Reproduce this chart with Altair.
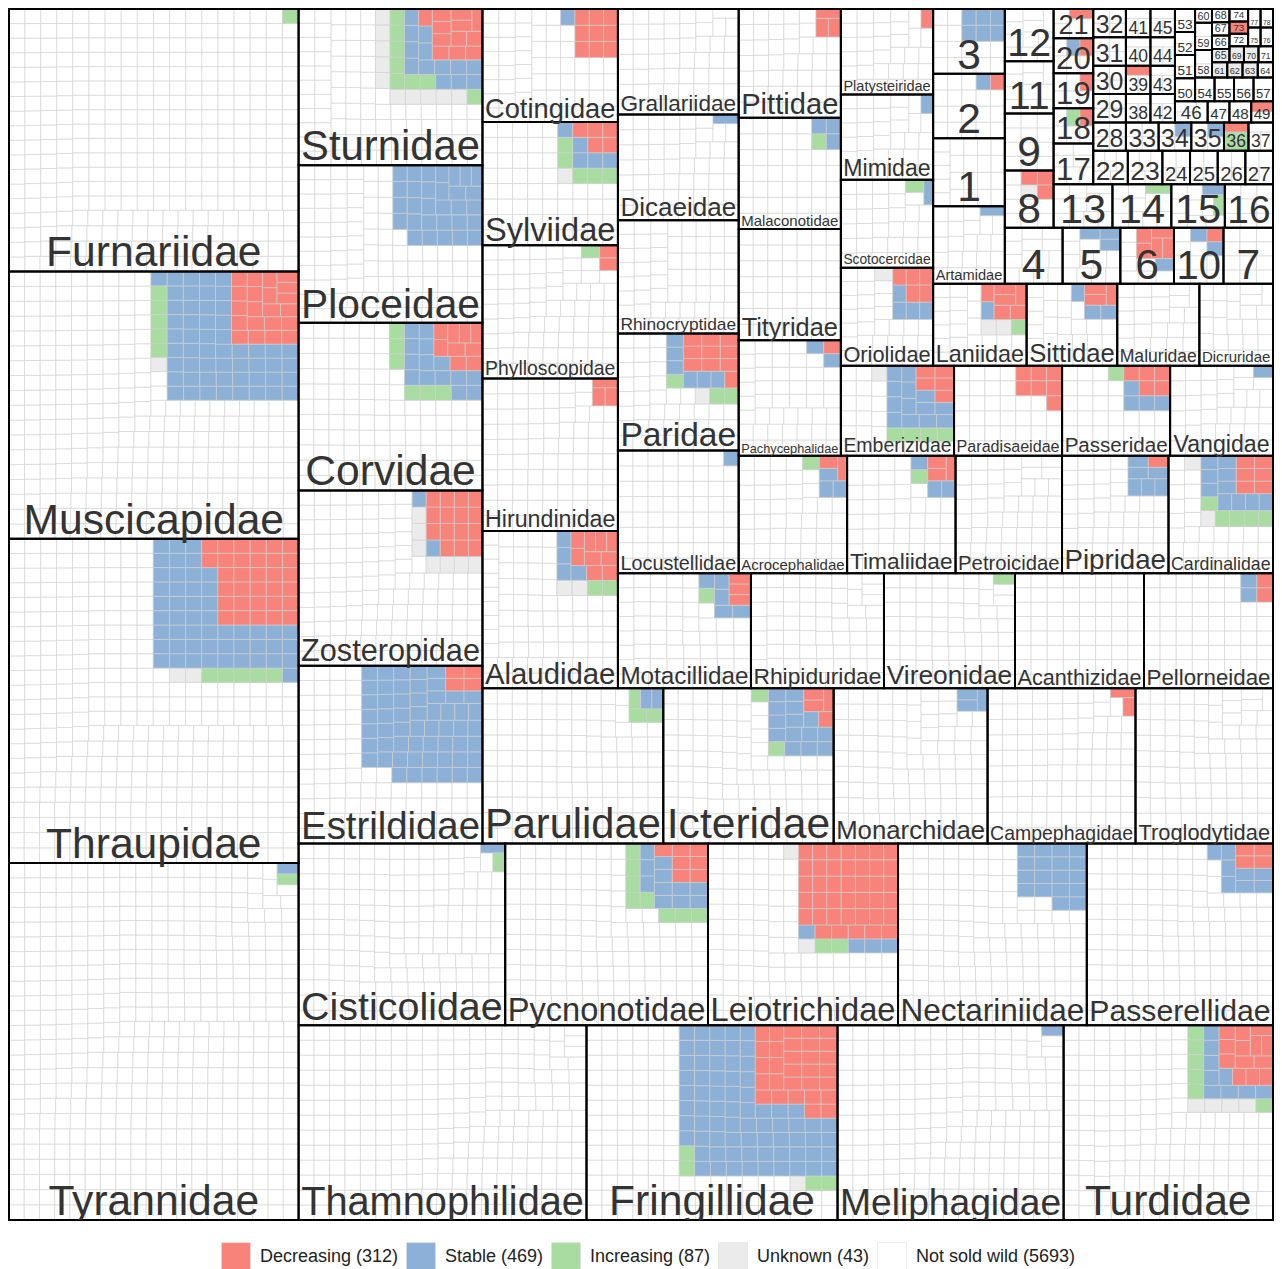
import altair as alt
import pandas as pd

# ---------------- data ----------------
FAMILIES = [
    "Tyrannidae", "Thraupidae", "Muscicapidae", "Furnariidae",
    "Thamnophilidae", "Fringillidae", "Meliphagidae", "Turdidae",
    "Cisticolidae", "Pycnonotidae", "Leiotrichidae", "Nectariniidae", "Passerellidae",
    "Estrildidae", "Zosteropidae", "Corvidae", "Ploceidae", "Sturnidae",
    "Parulidae", "Icteridae", "Monarchidae", "Campephagidae", "Troglodytidae",
    "Alaudidae", "Hirundinidae", "Phylloscopidae", "Sylviidae", "Cotingidae",
    "Motacillidae", "Rhipiduridae", "Vireonidae", "Acanthizidae", "Pellorneidae",
    "Locustellidae", "Paridae", "Rhinocryptidae", "Dicaeidae", "Grallariidae",
    "Acrocephalidae", "Timaliidae", "Petroicidae", "Pipridae", "Cardinalidae",
    "Pachycephalidae", "Tityridae", "Malaconotidae", "Pittidae",
    "Emberizidae", "Paradisaeidae", "Passeridae", "Vangidae",
    "Oriolidae", "Scotocercidae", "Mimidae", "Platysteiridae",
    "Laniidae", "Sittidae", "Maluridae", "Dicruridae",
    "Artamidae",
    "1", "2", "3", "4", "5", "6", "10", "7", "8", "9", "11", "12", "13", "14", "15", "16",
    "17", "18", "19", "20", "21", "22", "23", "24", "25", "26", "27", "28", "29", "30",
    "31", "32", "33", "34", "35", "36", "37", "38", "39", "40", "41", "42", "43", "44",
    "45", "46", "47", "48", "49", "50", "51", "52", "53", "54", "55", "56", "57", "58",
    "59", "60", "61", "62", "63", "64", "65", "66", "67", "68", "69", "70", "71", "72",
    "73", "74", "75", "76", "77", "78",
]

TOTAL = [
    446, 405, 334, 328,
    242, 211, 190, 176,
    162, 159, 149, 148, 146,
    141, 139, 133, 125, 124,
    121, 114, 103, 99, 92,
    92, 89, 78, 72, 66,
    66, 66, 65, 64, 64,
    64, 61, 59, 55, 55,
    55, 55, 54, 54, 53,
    51, 49, 49, 48,
    44, 42, 42, 40,
    39, 35, 34, 34,
    33, 32, 29, 26,
    24,
    21, 20, 20, 14, 14, 13, 12, 12, 12, 12, 11, 11, 11, 11, 10, 9,
    7, 6, 6, 6, 5, 5, 5, 4, 4, 4, 4, 4, 4, 4,
    4, 4, 4, 4, 4, 3, 3, 3, 3, 3, 3, 3, 3, 3,
    3, 3, 2, 2, 2, 2, 2, 2, 2, 2, 2, 2, 2, 2,
    2, 1, 1, 1, 1, 1, 1, 1, 1, 1, 1, 1, 1, 1,
    1, 1, 1, 1, 1, 1,
]

DECREASING = {
    "Thraupidae": 32, "Muscicapidae": 21, "Fringillidae": 30, "Turdidae": 13,
    "Pycnonotidae": 7, "Leiotrichidae": 40, "Passerellidae": 4, "Estrildidae": 4,
    "Zosteropidae": 15, "Corvidae": 9, "Sturnidae": 12, "Icteridae": 4,
    "Campephagidae": 2, "Alaudidae": 9, "Hirundinidae": 3, "Phylloscopidae": 2,
    "Sylviidae": 5, "Cotingidae": 9, "Motacillidae": 3, "Pellorneidae": 2,
    "Paridae": 10, "Acrocephalidae": 2, "Timaliidae": 3, "Pipridae": 1,
    "Cardinalidae": 6, "Pachycephalidae": 1, "Pittidae": 3, "Emberizidae": 5,
    "Paradisaeidae": 7, "Passeridae": 5, "Oriolidae": 5, "Platysteiridae": 1,
    "Laniidae": 6, "Sittidae": 3,
    "2": 1, "6": 5, "10": 1, "8": 3, "18": 1, "19": 1, "20": 1, "21": 1,
    "36": 1, "39": 1, "49": 1, "73": 1,
}

STABLE = {
    "Tyrannidae": 1, "Thraupidae": 50, "Muscicapidae": 53, "Fringillidae": 71,
    "Meliphagidae": 1, "Turdidae": 9, "Cisticolidae": 1, "Pycnonotidae": 11,
    "Leiotrichidae": 4, "Nectariniidae": 18, "Passerellidae": 8, "Estrildidae": 55,
    "Zosteropidae": 2, "Corvidae": 14, "Ploceidae": 30, "Sturnidae": 13,
    "Parulidae": 2, "Icteridae": 14, "Monarchidae": 3, "Alaudidae": 4,
    "Sylviidae": 5, "Cotingidae": 1, "Motacillidae": 5, "Pellorneidae": 2,
    "Locustellidae": 1, "Paridae": 6, "Dicaeidae": 1, "Acrocephalidae": 3,
    "Timaliidae": 3, "Pipridae": 6, "Cardinalidae": 10, "Pachycephalidae": 2,
    "Malaconotidae": 3, "Emberizidae": 13, "Passeridae": 4, "Vangidae": 1,
    "Oriolidae": 4, "Scotocercidae": 1, "Mimidae": 1, "Laniidae": 1,
    "Sittidae": 3, "Artamidae": 1,
    "2": 1, "3": 6, "5": 3, "6": 1, "10": 2, "15": 1, "20": 1, "34": 1, "35": 1,
}

INCREASING = {
    "Tyrannidae": 1, "Thraupidae": 5, "Muscicapidae": 5, "Furnariidae": 1,
    "Fringillidae": 4, "Turdidae": 6, "Cisticolidae": 1, "Pycnonotidae": 8,
    "Leiotrichidae": 2, "Corvidae": 6, "Sturnidae": 8, "Parulidae": 3,
    "Icteridae": 2, "Alaudidae": 2, "Phylloscopidae": 1, "Sylviidae": 5,
    "Motacillidae": 1, "Vireonidae": 1, "Paridae": 3, "Acrocephalidae": 1,
    "Timaliidae": 1, "Cardinalidae": 5, "Malaconotidae": 1, "Emberizidae": 4,
    "Passeridae": 1, "Scotocercidae": 1, "Laniidae": 1,
    "14": 1, "15": 1, "18": 1, "36": 2,
}

UNKNOWN = {
    "Thraupidae": 2, "Muscicapidae": 1, "Fringillidae": 1, "Turdidae": 4,
    "Leiotrichidae": 2, "Zosteropidae": 7, "Sturnidae": 10, "Alaudidae": 2,
    "Sylviidae": 1, "Paridae": 1, "Cardinalidae": 2, "Emberizidae": 1,
    "Laniidae": 2, "Oriolidae": 1,
    "8": 1, "61": 1, "62": 1, "63": 1, "65": 1, "69": 1, "70": 1,
}

# legend entries and the totals printed in the reference legend
STATUSES = ["Decreasing", "Stable", "Increasing", "Unknown", "Not sold wild"]
LEGEND_COUNTS = [312, 469, 87, 43, 5693]
COLORS = ["#F8837A", "#8DB1D6", "#A9DCA0", "#EBEBEB", "#FFFFFF"]

W, H = 1264, 1211

# Arial / Liberation Sans advance widths (1/1000 em) for label fitting
ARIAL = dict(zip("ABCDEFGHIJKLMNOPQRSTUVWXYZ",
                 [667, 667, 722, 722, 667, 611, 778, 722, 278, 500, 667, 556, 833,
                  722, 778, 667, 778, 722, 667, 611, 722, 667, 944, 667, 667, 611]))
ARIAL.update(dict(zip("abcdefghijklmnopqrstuvwxyz",
                      [556, 556, 500, 556, 556, 278, 556, 556, 222, 222, 500, 222, 833,
                       556, 556, 556, 556, 333, 500, 278, 556, 500, 722, 500, 500, 500])))


def text_em(s):
    return sum(ARIAL.get(c, 556) for c in s) / 1000.0


# ---------------- squarified treemap (start bottom-left) ----------------
def worst(row, dx, dy):
    s = sum(row)
    if dx >= dy:
        w = s / dy
        return max(max(w / (a / w), (a / w) / w) for a in row)
    h = s / dx
    return max(max((a / h) / h, h / (a / h)) for a in row)


def squarify(sizes, x, y, dx, dy):
    rects = []
    sizes = list(sizes)
    while sizes:
        if len(sizes) == 1:
            rects.append((x, y, x + dx, y + dy))
            break
        i = 1
        while i < len(sizes) and worst(sizes[:i], dx, dy) >= worst(sizes[:i + 1], dx, dy):
            i += 1
        row, sizes = sizes[:i], sizes[i:]
        s = sum(row)
        if dx >= dy:
            w = s / dy
            cy = y
            for a in row:
                h = a / w
                rects.append((x, cy, x + w, cy + h))
                cy += h
            x += w
            dx -= w
        else:
            h = s / dx
            cx = x
            for a in row:
                w = a / h
                rects.append((cx, y, cx + w, y + h))
                cx += w
            y += h
            dy -= h
    return rects


grand = float(sum(TOTAL))
fam_rects = squarify([t / grand for t in TOTAL], 0.0, 0.0, 1.0, 1.0)

LABEL = {s: f"{s} ({n})" for s, n in zip(STATUSES, LEGEND_COUNTS)}

cell_rows = []
fam_rows = []
for fam, tot, (x0, y0, x1, y1) in zip(FAMILIES, TOTAL, fam_rects):
    dec = DECREASING.get(fam, 0)
    sta = STABLE.get(fam, 0)
    inc = INCREASING.get(fam, 0)
    unk = UNKNOWN.get(fam, 0)
    nsw = tot - dec - sta - inc - unk
    seq = (["Not sold wild"] * nsw + ["Unknown"] * unk + ["Increasing"] * inc
           + ["Stable"] * sta + ["Decreasing"] * dec)
    a = (x1 - x0) * (y1 - y0) / tot
    for st, (cx0, cy0, cx1, cy1) in zip(seq, squarify([a] * tot, x0, y0, x1 - x0, y1 - y0)):
        cell_rows.append({"family": fam, "status": LABEL[st],
                          "x0": cx0, "x1": cx1, "y0": cy0, "y1": cy1})
    wpx = (x1 - x0) * W
    hpx = (y1 - y0) * H
    fs = min(42.6, (wpx - 5) / text_em(fam), (hpx - 3) / 0.97)
    pad = 2.5 + 0.06 * fs
    fam_rows.append({"family": fam, "x0": x0, "x1": x1, "y0": y0, "y1": y1,
                     "tx": (x0 + x1) / 2, "ty": y0 + pad / H, "fs": fs})

cells_df = pd.DataFrame(cell_rows)
fam_df = pd.DataFrame(fam_rows)

xs = alt.Scale(domain=[0, 1], nice=False, zero=False)
ys = alt.Scale(domain=[0, 1], nice=False, zero=False)

cells = alt.Chart(cells_df).mark_rect(stroke="#d0d0d0", strokeWidth=0.6).encode(
    x=alt.X("x0:Q", scale=xs, axis=None),
    x2="x1:Q",
    y=alt.Y("y0:Q", scale=ys, axis=None),
    y2="y1:Q",
    color=alt.Color(
        "status:N",
        scale=alt.Scale(domain=[LABEL[s] for s in STATUSES], range=COLORS),
        legend=alt.Legend(
            orient="none", legendX=212, legendY=1233, direction="horizontal",
            title=None, symbolType="square", symbolSize=841,
            symbolStrokeColor="#dddddd", symbolStrokeWidth=0.6, symbolOpacity=1,
            labelFont="Liberation Sans", labelFontSize=18, labelColor="#222222",
            labelOffset=9, columnPadding=6, labelLimit=400,
        ),
    ),
)

borders = alt.Chart(fam_df).mark_rect(fill="transparent", stroke="#000000", strokeWidth=2).encode(
    x=alt.X("x0:Q", scale=xs, axis=None),
    x2="x1:Q",
    y=alt.Y("y0:Q", scale=ys, axis=None),
    y2="y1:Q",
)

labels = alt.Chart(fam_df).mark_text(
    align="center", baseline="alphabetic", font="Liberation Sans", color="#333333", clip=True
).encode(
    x=alt.X("tx:Q", scale=xs, axis=None),
    y=alt.Y("ty:Q", scale=ys, axis=None),
    text="family:N",
    size=alt.Size("fs:Q", scale=None, legend=None),
)

chart = alt.layer(cells, borders, labels).properties(
    width=W, height=H,
    autosize=alt.AutoSizeParams(type="none"),
    padding={"left": 1, "top": 1, "right": 1, "bottom": 52},
).configure_view(strokeWidth=0)

chart.save("out.html", embed_options={"renderer": "svg", "actions": False})
